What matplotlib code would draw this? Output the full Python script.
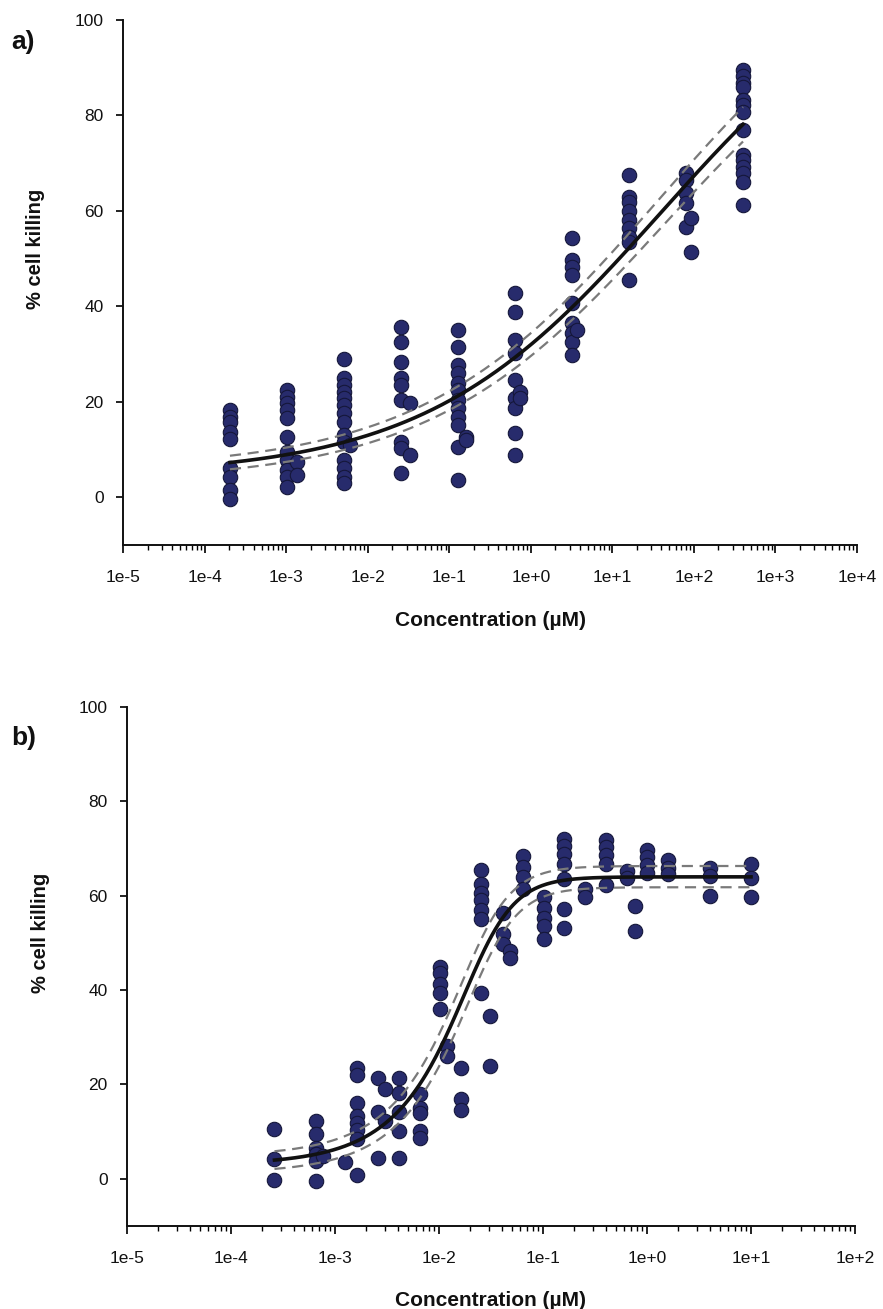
import numpy as np
import matplotlib
matplotlib.use("Agg")
import matplotlib.pyplot as plt
from matplotlib.ticker import LogLocator, FuncFormatter, NullFormatter, FixedLocator

plt.rcParams['font.family'] = ['Liberation Sans', 'DejaVu Sans']

# ---------------- panel a: concentration series (µM) and % cell killing ----------------
conc_a = [0.0002048, 0.001024, 0.00512, 0.0256, 0.128, 0.64, 3.2, 16.0, 80.0, 400.0]
kill_a = [
    [18.2, 16.8, 15.7, 13.6, 12.2, 6.1, 4.2, 1.5, -0.3],
    [22.4, 21.0, 19.7, 18.2, 16.6, 12.6, 9.4, 7.8, 5.7, 4.2, 2.1],
    [28.9, 24.9, 23.5, 22.0, 20.8, 19.3, 17.6, 15.7, 13.0, 11.5, 7.8, 6.1, 4.2, 2.9],
    [35.6, 32.5, 28.3, 24.9, 23.5, 20.3, 11.5, 10.3, 5.2],
    [35.0, 31.4, 27.7, 26.0, 23.9, 22.4, 20.3, 18.7, 16.8, 15.1, 10.5, 3.6],
    [42.8, 38.8, 32.9, 30.2, 24.5, 20.8, 18.7, 13.4, 8.8],
    [54.3, 49.7, 48.2, 46.5, 40.7, 36.5, 34.4, 32.5, 29.8],
    [67.5, 62.9, 61.8, 60.0, 58.1, 56.4, 54.5, 53.5, 45.5],
    [67.9, 66.5, 63.7, 61.6, 56.6],
    [89.5, 88.3, 86.8, 85.9, 83.2, 82.2, 80.7, 76.9, 71.7, 70.6, 69.2, 67.9, 66.0, 61.2],
]
# replicate runs at slightly different dilutions
conc_a_extra = [0.00136, 0.00136, 0.00605, 0.033, 0.033, 0.16, 0.16, 0.73, 0.73, 3.66, 93.0, 93.0]
kill_a_extra = [7.3, 4.6, 10.9, 19.7, 8.8, 12.6, 12.0, 22.0, 20.8, 35.0, 58.5, 51.4]

# four-parameter logistic fit and 95% confidence band
fit_a = dict(bottom=4.5, top=115.0, log_ec50=1.6, hill=0.30)
band_a_upper = dict(bottom=5.8, top=119.0, log_ec50=1.57, hill=0.30)
band_a_lower = dict(bottom=3.2, top=111.0, log_ec50=1.63, hill=0.30)

# ---------------- panel b ----------------
conc_b = [0.000262, 0.000655, 0.00164, 0.00262, 0.0041, 0.00655, 0.01024, 0.0164,
          0.0256, 0.041, 0.064, 0.1024, 0.16, 0.256, 0.4, 0.64, 1.0, 1.6, 4.0, 10.0]
kill_b = [
    [10.6, 4.3, -0.3],
    [12.3, 9.5, 6.6, 5.3, 3.8, -0.4],
    [23.4, 22.1, 16.1, 13.3, 11.9, 10.3, 8.5, 0.9],
    [21.4, 14.2, 4.4],
    [21.4, 18.2, 14.2, 10.2, 4.4],
    [18.0, 15.0, 14.0, 10.2, 8.7],
    [44.9, 43.6, 41.3, 39.4, 36.0],
    [23.5, 17.0, 14.6],
    [65.5, 62.5, 60.5, 59.0, 57.0, 55.0, 39.4],
    [56.4, 51.9, 49.8],
    [68.4, 66.0, 64.0, 61.5],
    [59.8, 57.3, 55.3, 53.6, 50.8],
    [72.1, 70.6, 68.9, 66.8, 63.5, 57.2, 53.2],
    [61.4, 59.7],
    [71.8, 70.4, 68.7, 66.7, 62.3],
    [65.3, 63.7],
    [69.7, 68.2, 66.6, 64.8],
    [67.6, 65.9, 64.6],
    [65.9, 64.2, 60.0],
    [66.8, 63.8, 59.8],
]
conc_b_extra = [0.00077, 0.00125, 0.003, 0.003, 0.0119, 0.0119, 0.031, 0.031, 0.048, 0.048, 0.77, 0.77]
kill_b_extra = [4.9, 3.6, 19.1, 12.3, 28.2, 26.1, 34.5, 23.9, 48.3, 46.8, 57.8, 52.6]

fit_b = dict(bottom=3.0, top=64.0, log_ec50=-1.583, hill=2.0, asym=0.45)
band_b_upper = dict(bottom=4.8, top=66.3, log_ec50=-1.615, hill=2.0, asym=0.45)
band_b_lower = dict(bottom=1.2, top=61.8, log_ec50=-1.55, hill=2.0, asym=0.45)

y_ticks = [0, 20, 40, 60, 80, 100]
x_decades_a = list(range(-5, 5))
x_decades_b = list(range(-5, 3))

DOT = '#272b6c'
EDGE = '#15173a'


def logistic(x, bottom, top, log_ec50, hill, asym=1.0):
    return bottom + (top - bottom) / (1.0 + 10.0 ** ((log_ec50 - np.log10(x)) * hill)) ** asym


def draw_panel(ax, conc, kill, conc_x, kill_x, fit, upper, lower, decades):
    xs = np.concatenate([np.full(len(v), c) for c, v in zip(conc, kill)] + [np.asarray(conc_x)])
    ys = np.concatenate([np.asarray(v) for v in kill] + [np.asarray(kill_x)])
    ax.scatter(xs, ys, s=108, color=DOT, edgecolors=EDGE, linewidths=0.8, zorder=2)

    grid = np.logspace(np.log10(min(conc)), np.log10(max(conc)), 400)
    ax.plot(grid, logistic(grid, **upper), color='#7a7a7a', lw=1.6, ls=(0, (5, 3)), zorder=3)
    ax.plot(grid, logistic(grid, **lower), color='#7a7a7a', lw=1.6, ls=(0, (5, 3)), zorder=3)
    ax.plot(grid, logistic(grid, **fit), color='#111111', lw=2.6, zorder=4)

    ax.set_xscale('log')
    ax.set_xlim(10.0 ** decades[0], 10.0 ** decades[-1])
    ax.set_ylim(-10, 100)
    ax.xaxis.set_major_locator(FixedLocator([10.0 ** d for d in decades]))
    ax.xaxis.set_major_formatter(FuncFormatter(lambda v, p: f"1e{int(round(np.log10(v))):+d}"))
    ax.xaxis.set_minor_locator(LogLocator(base=10, subs=np.arange(2, 10), numticks=50))
    ax.xaxis.set_minor_formatter(NullFormatter())
    ax.set_yticks(y_ticks)

    for side in ('top', 'right'):
        ax.spines[side].set_visible(False)
    for side in ('left', 'bottom'):
        ax.spines[side].set_linewidth(1.4)
        ax.spines[side].set_color('#111111')
    ax.tick_params(axis='x', which='major', direction='out', length=6, width=1.3, pad=12,
                   labelsize=12.5, colors='#111111')
    ax.tick_params(axis='x', which='minor', direction='out', length=3.5, width=1.0)
    ax.tick_params(axis='y', which='major', direction='out', length=5, width=1.3, pad=9,
                   labelsize=12.5, colors='#111111')

    ax.set_ylabel('% cell killing', fontsize=14.5, fontweight='bold', color='#111111')
    ax.yaxis.set_label_coords(-0.106, 0.565)
    ax.set_xlabel('Concentration (µM)', fontsize=15, fontweight='bold', color='#111111')
    ax.xaxis.set_label_coords(0.5, -0.125)


fig = plt.figure(figsize=(8.83, 13.09), dpi=100)
ax_a = fig.add_axes([0.1393, 0.5836, 0.8313, 0.4011])
ax_b = fig.add_axes([0.1438, 0.0634, 0.8245, 0.3965])

draw_panel(ax_a, conc_a, kill_a, conc_a_extra, kill_a_extra, fit_a, band_a_upper, band_a_lower, x_decades_a)
draw_panel(ax_b, conc_b, kill_b, conc_b_extra, kill_b_extra, fit_b, band_b_upper, band_b_lower, x_decades_b)

fig.text(0.013, 1 - 42 / 1309, 'a)', fontsize=19, fontweight='bold', va='center', color='#111111')
fig.text(0.013, 1 - 738 / 1309, 'b)', fontsize=19, fontweight='bold', va='center', color='#111111')

fig.savefig('out.png', dpi=100, facecolor='white')
